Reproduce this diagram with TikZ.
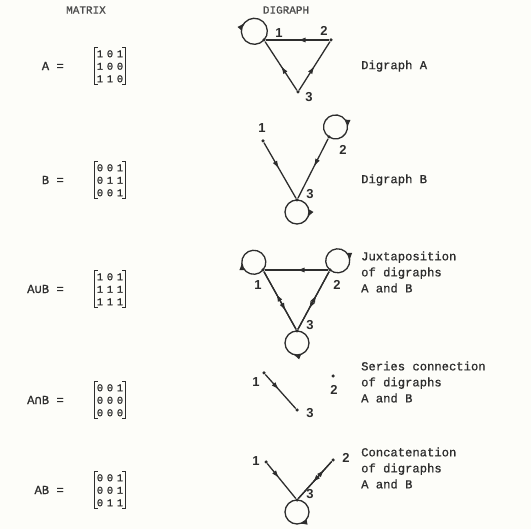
\documentclass[tikz,border=0pt]{standalone}
\usepackage{fontspec}
\setmainfont{Liberation Serif}
\newfontfamily\twfont[FakeBold=0.8]{Liberation Mono}
\newfontfamily\symfont[FakeBold=0.8]{DejaVu Sans Mono}
\newfontfamily\lblfont{Liberation Sans}
\usetikzlibrary{arrows.meta,decorations.markings,matrix}
\definecolor{ink}{RGB}{45,45,45}
\definecolor{paper}{RGB}{253,253,249}
\tikzset{
  txt/.style={font=\twfont\fontsize{12.2}{16}\selectfont, text=ink, inner sep=0pt},
  hdr/.style={font=\twfont\fontsize{11}{12}\selectfont, text=ink!85, inner sep=0pt},
  vdot/.style={circle, fill=ink, inner sep=0pt, minimum size=3.5pt},
  vlbl/.style={font=\lblfont\bfseries\fontsize{13}{13}\selectfont, text=ink, inner sep=0pt},
  conn/.style={draw=ink, line width=1.3pt},
  midarr/.style={postaction={decorate}, decoration={markings, mark=at position #1 with {\arrow{Latex[length=8pt,width=5pt]}}}},
  amat/.style={matrix of nodes, inner sep=2pt,
    nodes={font=\twfont\fontsize{10.5}{13}\selectfont, text=ink, inner sep=0pt, text height=7.5pt, text depth=0pt, minimum width=6.3pt, anchor=center},
    row sep=5pt, column sep=3.7pt},
  brk/.style={draw=ink, line width=1pt},
}
\newcommand\matbrackets[1]{%
  \draw[brk] ([xshift=3pt]#1.north west) -| (#1.south west) -- ++(3pt,0pt);
  \draw[brk] ([xshift=-3pt]#1.north east) -| (#1.south east) -- ++(-3pt,0pt);}
\begin{document}
\begin{tikzpicture}[x=1pt,y=-1pt]
\fill[paper] (0,0) rectangle (531,529);
\useasboundingbox (0,0) rectangle (531,529);

% headers
\node[hdr] (hm) at (86,10) {MATRIX};
\node[hdr] (hd) at (286,10) {DIGRAPH};

% ---------- row 1 : A
\node[txt, anchor=east] (lA) at (64,66) {A =};
\matrix (mA) [amat] at (110,66) { 1 & 0 & 1 \\ 1 & 0 & 0 \\ 1 & 1 & 0 \\ };
\matbrackets{mA}
\node[vdot] (a1) at (264,40) {};
\node[vdot] (a2) at (331,40) {};
\node[vdot] (a3) at (298,92) {};
\draw[conn, midarr=0.5] (a2) -- (a1);
\draw[conn, midarr=0.5] (a3) -- (a1);
\draw[conn, midarr=0.5] (a3) -- (a2);
\draw[conn, midarr=0.5] (a1) arc[start angle=42, delta angle=360, radius=13];
\node[vlbl] (a1l) at (279,33) {1};
\node[vlbl] (a2l) at (324,31) {2};
\node[vlbl] (a3l) at (309,97) {3};
\node[txt, anchor=west] (tA) at (361,66) {Digraph A};

% ---------- row 2 : B
\node[txt, anchor=east] (lB) at (64,180) {B =};
\matrix (mB) [amat] at (110,180) { 0 & 0 & 1 \\ 0 & 1 & 1 \\ 0 & 0 & 1 \\ };
\matbrackets{mB}
\node[vdot] (b1) at (263,141) {};
\node[vdot] (b2) at (329,137) {};
\node[vdot] (b3) at (297,200) {};
\draw[conn, midarr=0.47] (b1) -- (b3);
\draw[conn, midarr=0.47] (b2) -- (b3);
\draw[conn, midarr=0.67] (b2) arc[start angle=123, delta angle=360, radius=12];
\draw[conn, midarr=0.33] (b3) arc[start angle=270, delta angle=360, radius=12];
\node[vlbl] (b1l) at (262,128) {1};
\node[vlbl] (b2l) at (343,150) {2};
\node[vlbl] (b3l) at (310,194) {3};
\node[txt, anchor=west] (tB) at (361,180) {Digraph B};

% ---------- row 3 : A union B
\node[txt, anchor=east] (lU) at (64,289) {A{\symfont ∪}B =};
\matrix (mU) [amat] at (110,289) { 1 & 0 & 1 \\ 1 & 1 & 1 \\ 1 & 1 & 1 \\ };
\matbrackets{mU}
\node[vdot] (u1) at (263,270) {};
\node[vdot] (u2) at (330,270) {};
\node[vdot] (u3) at (297,331) {};
\draw[conn, midarr=0.5] (u2) -- (u1);
\draw[conn, midarr=0.62] (u3) -- (u1);
\draw[conn, midarr=0.68] (u1) -- (u3);
\draw[conn, midarr=0.6] (u3) -- (u2);
\draw[conn, midarr=0.65] (u2) -- (u3);
\draw[conn, midarr=0.39] (u1) arc[start angle=40, delta angle=360, radius=12];
\draw[conn, midarr=0.64] (u2) arc[start angle=130, delta angle=360, radius=12];
\draw[conn, midarr=0.56] (u3) arc[start angle=270, delta angle=360, radius=12];
\node[vlbl] (u1l) at (258,285) {1};
\node[vlbl] (u2l) at (337,285) {2};
\node[vlbl] (u3l) at (310,325) {3};
\node[txt, anchor=west, align=left] (tU) at (361,272) {Juxtaposition\\of digraphs\\A and B};

% ---------- row 4 : A intersect B
\node[txt, anchor=east] (lI) at (64,400) {A{\symfont ∩}B =};
\matrix (mI) [amat] at (110,400) { 0 & 0 & 1 \\ 0 & 0 & 0 \\ 0 & 0 & 0 \\ };
\matbrackets{mI}
\node[vdot] (i1) at (264,373) {};
\node[vdot] (i2) at (333,376) {};
\node[vdot] (i3) at (297,410) {};
\draw[conn, midarr=0.45] (i1) -- (i3);
\node[vlbl] (i1l) at (256,382) {1};
\node[vlbl] (i2l) at (334,390) {2};
\node[vlbl] (i3l) at (310,413) {3};
\node[txt, anchor=west, align=left] (tI) at (361,382) {Series connection\\of digraphs\\A and B};

% ---------- row 5 : AB
\node[txt, anchor=east] (lP) at (64,490) {AB =};
\matrix (mP) [amat] at (110,490) { 0 & 0 & 1 \\ 0 & 0 & 1 \\ 0 & 1 & 1 \\ };
\matbrackets{mP}
\node[vdot] (p1) at (266,462) {};
\node[vdot] (p2) at (333,460) {};
\node[vdot] (p3) at (297,500) {};
\draw[conn, midarr=0.42] (p1) -- (p3);
\draw[conn, midarr=0.78] (p3) -- (p2);
\draw[conn, midarr=0.57] (p2) -- (p3);
\draw[conn, midarr=0.47] (p3) arc[start angle=270, delta angle=360, radius=12];
\node[vlbl] (p1l) at (256,461) {1};
\node[vlbl] (p2l) at (346,458) {2};
\node[vlbl] (p3l) at (310,494) {3};
\node[txt, anchor=west, align=left] (tP) at (361,468) {Concatenation\\of digraphs\\A and B};
\end{tikzpicture}
\end{document}
